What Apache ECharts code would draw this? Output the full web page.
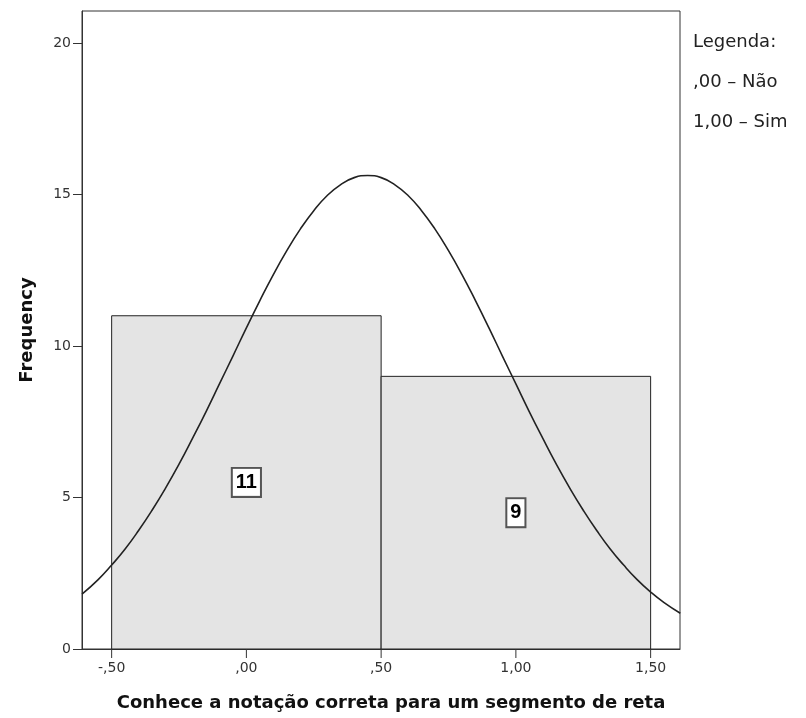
<!DOCTYPE html>
<html>
<head>
<meta charset="utf-8">
<script src="https://cdn.jsdelivr.net/npm/echarts@6/dist/echarts.min.js"></script>
<style>
  html, body { margin: 0; padding: 0; background: #fff; }
  #chart { width: 806px; height: 718px; }
</style>
</head>
<body>
<div id="chart"></div>
<script>
// histogram bins: [start, end, count]
const binStarts = [-0.5, 0.5];
const binEnds = [0.5, 1.5];
const binCounts = [11, 9];
const binLabelY = [5.5, 4.5];

// normal curve
const curveX = [-0.61, -0.55, -0.5, -0.45, -0.4, -0.35, -0.3, -0.25, -0.2, -0.15, -0.1, -0.05, 0, 0.05, 0.1, 0.15, 0.2, 0.25, 0.3, 0.35, 0.4, 0.45,
  0.5, 0.55, 0.6, 0.65, 0.7, 0.75, 0.8, 0.85, 0.9, 0.95, 1.0, 1.05, 1.1, 1.15, 1.2, 1.25, 1.3, 1.35, 1.4, 1.45, 1.5, 1.55, 1.61];
const curveY = [1.81, 2.29, 2.77, 3.30, 3.91, 4.58, 5.31, 6.10, 6.95, 7.83, 8.75, 9.67, 10.6, 11.5, 12.36, 13.15, 13.86, 14.47, 14.97, 15.33, 15.56, 15.63,
  15.56, 15.33, 14.97, 14.47, 13.86, 13.15, 12.36, 11.5, 10.6, 9.67, 8.75, 7.83, 6.95, 6.10, 5.31, 4.58, 3.91, 3.30, 2.77, 2.29, 1.88, 1.53, 1.18];

const xTicks = [-0.5, 0, 0.5, 1, 1.5];
const xTickLabels = ['-,50', ',00', ',50', '1,00', '1,50'];
const legendLines = ['Legenda:', ',00 – Não', '1,00 – Sim'];

const chart = echarts.init(document.getElementById('chart'));

const bars = binStarts.map((s, i) => [s, binEnds[i], binCounts[i], binLabelY[i]]);

function xLabel(v) {
  const i = xTicks.findIndex(t => Math.abs(t - v) < 1e-6);
  return i >= 0 ? xTickLabels[i] : '';
}

chart.setOption({
  animation: false,
  backgroundColor: '#fff',
  grid: {
    left: 82, right: 126, top: 11, bottom: 69,
    show: true, borderColor: '#333', borderWidth: 1, backgroundColor: '#fff'
  },
  xAxis: {
    type: 'value',
    min: -0.61, max: 1.609,
    name: 'Conhece a notação correta para um segmento de reta',
    nameLocation: 'middle',
    nameGap: 45,
    nameTextStyle: { fontFamily: 'DejaVu Sans', fontWeight: 'bold', fontSize: 18, color: '#111', padding: [0, 0, 0, 20] },
    axisLine: { onZero: false, lineStyle: { color: '#333' } },
    axisTick: { show: false },
    axisLabel: {
      customValues: xTicks,
      formatter: xLabel,
      fontFamily: 'DejaVu Sans', fontSize: 14, color: '#333', margin: 12
    },
    splitLine: { show: false }
  },
  yAxis: {
    type: 'value',
    min: 0, max: 21.06, interval: 5,
    name: 'Frequency',
    nameLocation: 'middle',
    nameGap: 46,
    nameTextStyle: { fontFamily: 'DejaVu Sans', fontWeight: 'bold', fontSize: 18, color: '#111' },
    axisLine: { show: true, onZero: false, lineStyle: { color: '#333' } },
    axisTick: { show: true, length: 9, lineStyle: { color: '#333' } },
    axisLabel: {
      showMaxLabel: false,
      fontFamily: 'DejaVu Sans', fontSize: 14, color: '#333', margin: 11
    },
    splitLine: { show: false }
  },
  series: [
    {
      type: 'custom',
      data: bars,
      renderItem: function (params, api) {
        const p0 = api.coord([api.value(0), 0]);
        const p1 = api.coord([api.value(1), api.value(2)]);
        const lp = api.coord([(api.value(0) + api.value(1)) / 2, api.value(3)]);
        return {
          type: 'group',
          children: [
            {
              type: 'rect',
              shape: { x: p0[0], y: p1[1], width: p1[0] - p0[0], height: p0[1] - p1[1] },
              style: { fill: '#e4e4e4', stroke: '#222', lineWidth: 1 }
            },
            {
              type: 'text',
              x: lp[0], y: lp[1],
              style: {
                text: String(api.value(2)),
                align: 'center', verticalAlign: 'middle',
                font: 'bold 20px "Liberation Sans"',
                fill: '#000',
                backgroundColor: '#fff',
                borderColor: '#555', borderWidth: 2,
                padding: [4, 3, 3, 3]
              }
            }
          ]
        };
      },
      z: 2
    },
    {
      type: 'line',
      data: curveX.map((x, i) => [x, curveY[i]]),
      smooth: true,
      symbol: 'none',
      clip: true,
      lineStyle: { color: '#222', width: 1.6 },
      z: 3
    },
    {
      // x axis tick marks at the bin edges and centres
      type: 'custom',
      silent: true,
      clip: false,
      data: xTicks.map(v => [v]),
      renderItem: function (params, api) {
        const p = api.coord([api.value(0), 0]);
        return {
          type: 'line',
          shape: { x1: p[0], y1: p[1], x2: p[0], y2: p[1] + 9 },
          style: { stroke: '#333', lineWidth: 1 }
        };
      },
      z: 4
    }
  ],
  graphic: legendLines.map((t, i) => ({
    type: 'text',
    left: 693,
    top: 33 + i * 40,
    style: { text: t, font: '18px "DejaVu Sans"', fill: '#222' }
  }))
});
</script>
</body>
</html>
